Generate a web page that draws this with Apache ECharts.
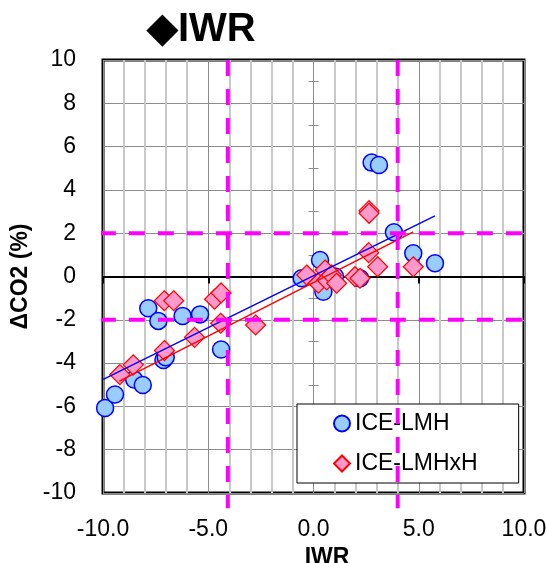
<!DOCTYPE html>
<html>
<head>
<meta charset="utf-8">
<script src="https://cdn.jsdelivr.net/npm/echarts@6/dist/echarts.min.js"></script>
<style>
  html, body { margin: 0; padding: 0; background: #fff; }
  #chart { width: 547px; height: 563px; }
</style>
</head>
<body>
<div id="chart"></div>
<script>
// ICE-LMH points [IWR, dCO2]
const lmhPoints = [
  [-9.90, -6.07], [-9.43, -5.45], [-8.52, -4.76], [-8.11, -5.01],
  [-7.85, -1.47], [-7.37, -2.05], [-7.13, -3.86], [-7.02, -3.73],
  [-6.22, -1.82], [-5.39, -1.75], [-4.39, -3.37],
  [-0.56, -0.08], [0.31, 0.76], [0.47, -0.70], [1.02, 0.0], [2.21, -0.08],
  [2.76, 5.26], [3.11, 5.15], [3.82, 2.04], [4.74, 1.07], [5.77, 0.61]
];
// ICE-LMHxH points
const lmhxhPoints = [
  [-9.20, -4.53], [-8.56, -4.08], [-7.09, -1.12], [-6.64, -1.12],
  [-7.08, -3.42], [-5.65, -2.81], [-4.70, -1.05], [-4.39, -0.76],
  [-4.41, -2.16], [-2.75, -2.24],
  [-0.32, 0.07], [0.23, -0.31], [0.55, 0.30], [0.63, -0.16], [0.86, 0.07],
  [1.10, -0.31], [1.97, -0.01], [2.21, -0.08],
  [2.64, 3.04], [2.64, 2.92], [2.62, 1.10], [3.05, 0.45], [4.74, 0.45]
];
// trend lines (end points)
const lmhTrend = [[-9.99, -4.75], [5.77, 2.80]];
const lmhxhTrend = [[-9.22, -4.83], [4.74, 2.06]];
// threshold lines
const xThresholds = [-4.07, 4.0];
const yThresholds = [-2, 2];
const xRange = [-10, 10];
const yRange = [-10, 10];

const FONT = "'Liberation Sans', Arial, sans-serif";
const MAGENTA = '#FF00FF';

const chart = echarts.init(document.getElementById('chart'), null, { renderer: 'canvas' });

const dashSeries = [];
xThresholds.forEach(function (x) {
  dashSeries.push({
    type: 'line', data: [[x, 10], [x, -10.7]], clip: false, symbol: 'none', silent: true,
    z: 10, lineStyle: { color: MAGENTA, width: 4, type: [16, 13] }
  });
});
yThresholds.forEach(function (y) {
  dashSeries.push({
    type: 'line', data: [[-10.15, y], [10, y]], clip: false, symbol: 'none', silent: true,
    z: 10, lineStyle: { color: MAGENTA, width: 4, type: [16, 13] }
  });
});

const option = {
  animation: false,
  backgroundColor: '#fff',
  textStyle: { fontFamily: FONT },
  graphic: [{
    type: 'text', left: 147, top: 10,
    style: { text: '◆IWR', font: 'bold 40px ' + FONT, fill: '#000' }
  }],
  grid: {
    left: 103, right: 23, top: 60, bottom: 70,
    outerBoundsMode: 'none', containLabel: false,
    show: true, borderColor: '#000', borderWidth: 3, backgroundColor: 'transparent'
  },
  legend: {
    orient: 'vertical', left: 297, top: 404,
    padding: [8, 41, 8, 36], itemGap: 17, itemWidth: 16, itemHeight: 16,
    backgroundColor: '#fff', borderColor: '#000', borderWidth: 1,
    textStyle: { fontSize: 23, color: '#000', fontFamily: FONT },
    data: ['ICE-LMH', 'ICE-LMHxH']
  },
  xAxis: [{
    type: 'value', min: xRange[0], max: xRange[1], interval: 5,
    name: 'IWR', nameLocation: 'middle', nameGap: 49,
    nameTextStyle: { fontSize: 23, fontWeight: 'bold', color: '#000', padding: [0, 0, 0, 27] },
    axisLine: { show: false, onZero: false },
    axisTick: { show: false },
    axisLabel: { fontSize: 23, color: '#000', margin: 25, formatter: function (v) { return v.toFixed(1); } },
    splitLine: { show: true, lineStyle: { color: '#8c8c8c', width: 1 } },
    minorTick: { show: false, splitNumber: 5 },
    minorSplitLine: { show: true, lineStyle: { color: '#c8c8c8', width: 2 } }
  }, {
    type: 'value', min: xRange[0], max: xRange[1], interval: 5, position: 'top',
    axisLine: { show: true, onZero: true, lineStyle: { color: '#000', width: 2 } },
    axisTick: { show: true, inside: true, length: 7, lineStyle: { color: '#000', width: 2 } },
    axisLabel: { show: false }, splitLine: { show: false }
  }],
  yAxis: [{
    type: 'value', min: yRange[0], max: yRange[1], interval: 2,
    name: 'ΔCO2 (%)', nameLocation: 'middle', nameGap: 63, nameRotate: 90,
    nameTextStyle: { fontSize: 23, fontWeight: 'bold', color: '#000' },
    axisLine: { show: false, onZero: false },
    axisTick: { show: false },
    axisLabel: { fontSize: 23, color: '#000', margin: 27, padding: [6, 0, 0, 0] },
    splitLine: { show: true, lineStyle: { color: '#8c8c8c', width: 1 } }
  }, {
    type: 'value', min: yRange[0], max: yRange[1], interval: 1, position: 'left',
    axisLine: { show: true, onZero: true, lineStyle: { color: '#8c8c8c', width: 1 } },
    axisTick: { show: true, length: 5, lineStyle: { color: '#8c8c8c', width: 1 } },
    axisLabel: { show: false }, splitLine: { show: false }
  }, {
    type: 'value', min: yRange[0], max: yRange[1], interval: 1, position: 'right',
    axisLine: { show: false, onZero: true, onZeroAxisIndex: 0 },
    axisTick: { show: true, length: 5, lineStyle: { color: '#8c8c8c', width: 1 } },
    axisLabel: { show: false }, splitLine: { show: false }
  }],
  series: [{
    name: 'ICE-LMH', type: 'scatter', data: lmhPoints, symbol: 'circle', symbolSize: 17, z: 3,
    itemStyle: { color: '#99CCFF', borderColor: '#0000FF', borderWidth: 1.5, opacity: 1 }
  }, {
    name: 'ICE-LMHxH', type: 'scatter', data: lmhxhPoints, symbol: 'diamond', symbolSize: 20, z: 4,
    itemStyle: { color: '#FF99CC', borderColor: '#FF0000', borderWidth: 1.2, opacity: 1 }
  }, {
    type: 'line', data: lmhTrend, symbol: 'none', silent: true, z: 5,
    lineStyle: { color: '#0000FF', width: 1.5 }
  }, {
    type: 'line', data: lmhxhTrend, symbol: 'none', silent: true, z: 5,
    lineStyle: { color: '#FF0000', width: 1.5 }
  }].concat(dashSeries)
};

chart.setOption(option);
</script>
</body>
</html>
